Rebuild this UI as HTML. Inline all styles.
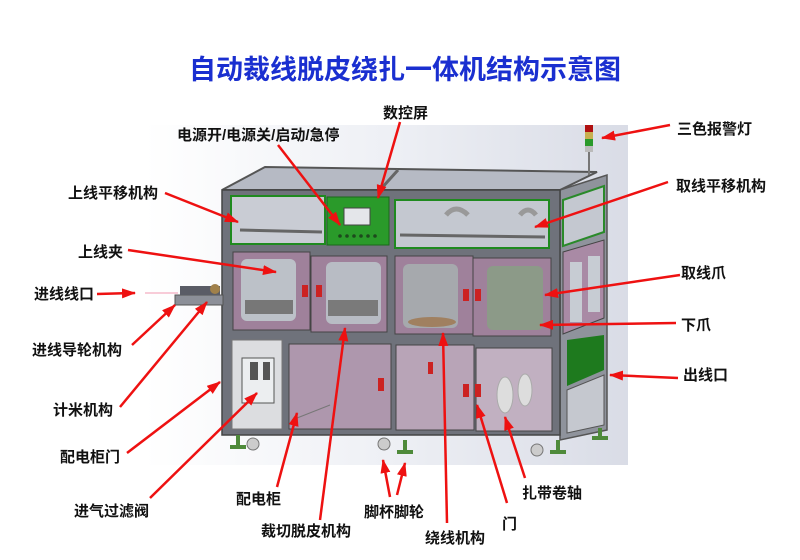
<!DOCTYPE html>
<html><head><meta charset="utf-8"><style>
body{margin:0;background:#fff;}
svg{display:block}
text{font-family:"Liberation Sans","Noto Sans CJK SC",sans-serif;font-weight:bold;}
</style></head><body>
<svg width="800" height="560" viewBox="0 0 800 560" xmlns="http://www.w3.org/2000/svg">
<defs>
<linearGradient id="bg" x1="0" x2="1" y1="0" y2="0">
<stop offset="0" stop-color="#ffffff"/><stop offset="0.5" stop-color="#eef0f5"/><stop offset="1" stop-color="#d9dce6"/>
</linearGradient>
<marker id="ah" markerWidth="14" markerHeight="10" refX="13" refY="5" orient="auto" markerUnits="userSpaceOnUse">
<path d="M0,0 L14,5 L0,10 z" fill="#ee1111"/>
</marker>
</defs>
<rect width="800" height="560" fill="#fff"/>
<rect x="145" y="125" width="483" height="340" fill="url(#bg)"/>
<text x="405" y="79" font-size="27" fill="#1a2fd0" text-anchor="middle">自动裁线脱皮绕扎一体机结构示意图</text>

<polygon points="222,190 265,167 597,172 560,190" fill="#b6bac4" stroke="#555" stroke-width="2"/>
<line x1="398" y1="170" x2="380" y2="190" stroke="#666" stroke-width="3"/>
<polygon points="560,190 607,175 607,430 560,440" fill="#8f939c" stroke="#555" stroke-width="1.5"/>
<polygon points="563,200 604,186 604,232 563,246" fill="#c4c8d0" stroke="#2a8a2a" stroke-width="2"/>
<polygon points="563,252 604,240 604,318 563,334" fill="#a98aa5" stroke="#444"/>
<rect x="570" y="262" width="12" height="60" fill="#c7ccd3"/>
<rect x="588" y="256" width="12" height="56" fill="#c7ccd3"/>
<polygon points="567,340 604,335 604,370 567,386" fill="#1e7a1e"/>
<polygon points="567,390 604,375 604,425 567,433" fill="#c5c8cf" stroke="#555"/>
<rect x="222" y="190" width="338" height="245" fill="#6f727b" stroke="#444" stroke-width="1.5"/>
<rect x="231" y="196" width="94" height="48" fill="#c9ccd4" stroke="#1f8a1f" stroke-width="2"/>
<line x1="240" y1="230" x2="322" y2="232" stroke="#666" stroke-width="3"/>
<rect x="327" y="197" width="62" height="48" fill="#2a9a2a" stroke="#1a6a1a"/>
<rect x="344" y="208" width="26" height="17" fill="#e4e6ea" stroke="#444"/>
<g fill="#1d4a1d"><circle cx="340" cy="236" r="1.8"/><circle cx="347" cy="236" r="1.8"/><circle cx="354" cy="236" r="1.8"/><circle cx="361" cy="236" r="1.8"/><circle cx="368" cy="236" r="1.8"/><circle cx="375" cy="236" r="1.8"/></g>
<rect x="395" y="200" width="154" height="48" fill="#c4c8d0" stroke="#1f8a1f" stroke-width="2"/>
<line x1="400" y1="235" x2="545" y2="237" stroke="#666" stroke-width="3"/>
<path d="M446,215 q10,-12 22,0" stroke="#999" stroke-width="5" fill="none"/>
<path d="M520,215 q8,-10 16,0" stroke="#999" stroke-width="5" fill="none"/>
<rect x="233" y="252" width="77" height="78" fill="#9f819b" stroke="#444"/>
<rect x="311" y="256" width="76" height="76" fill="#9f819b" stroke="#444"/>
<rect x="395" y="256" width="78" height="78" fill="#9f819b" stroke="#444"/>
<rect x="473" y="258" width="78" height="78" fill="#9f819b" stroke="#444"/>
<rect x="241" y="259" width="55" height="62" rx="6" fill="#bcc1c8"/>
<rect x="326" y="262" width="55" height="62" rx="6" fill="#b8bcc4"/>
<rect x="403" y="264" width="55" height="64" rx="6" fill="#a6a9ad"/>
<rect x="487" y="266" width="56" height="64" rx="6" fill="#8c9a88"/>
<rect x="245" y="300" width="48" height="14" fill="#777"/>
<rect x="328" y="300" width="50" height="16" fill="#7a7a7a"/>
<ellipse cx="432" cy="322" rx="24" ry="5" fill="#a08060"/>
<g fill="#c22"><rect x="302" y="285" width="6" height="12"/><rect x="316" y="285" width="6" height="12"/><rect x="463" y="289" width="6" height="12"/><rect x="475" y="289" width="6" height="12"/></g>
<rect x="232" y="340" width="50" height="89" fill="#dcdde0" stroke="#777"/>
<rect x="242" y="358" width="32" height="45" fill="#eceef0" stroke="#555"/>
<rect x="250" y="362" width="8" height="18" fill="#555"/><rect x="263" y="362" width="7" height="18" fill="#555"/>
<rect x="289" y="344" width="102" height="85" fill="#ae97ad" stroke="#444"/>
<rect x="396" y="345" width="78" height="85" fill="#b8a4b7" stroke="#444"/>
<rect x="476" y="348" width="76" height="83" fill="#c1b0c1" stroke="#444"/>
<line x1="292" y1="420" x2="330" y2="405" stroke="#777"/>
<ellipse cx="505" cy="395" rx="8" ry="18" fill="#ddd" stroke="#aaa"/>
<ellipse cx="525" cy="390" rx="7" ry="16" fill="#ddd" stroke="#aaa"/>
<g fill="#c22"><rect x="378" y="378" width="6" height="13"/><rect x="463" y="384" width="6" height="13"/><rect x="475" y="384" width="6" height="13"/><rect x="428" y="362" width="5" height="12"/></g>
<rect x="175" y="295" width="48" height="10" fill="#8c8f98" stroke="#555"/>
<rect x="180" y="286" width="40" height="9" fill="#5a5c66"/>
<circle cx="215" cy="289" r="5" fill="#a0804a"/>
<line x1="145" y1="293" x2="178" y2="293" stroke="#e79" stroke-width="0.8"/>
<g fill="#4e8a3a"><rect x="236" y="435" width="4" height="12"/><rect x="230" y="445" width="16" height="4"/>
<rect x="403" y="440" width="4" height="12"/><rect x="397" y="450" width="16" height="4"/>
<rect x="556" y="440" width="4" height="12"/><rect x="550" y="450" width="16" height="4"/>
<rect x="598" y="428" width="4" height="10"/><rect x="592" y="436" width="16" height="4"/></g>
<g fill="#ccc" stroke="#777"><circle cx="253" cy="444" r="6"/><circle cx="384" cy="444" r="6"/><circle cx="537" cy="450" r="6"/></g>
<line x1="589" y1="150" x2="589" y2="175" stroke="#777" stroke-width="2"/>
<rect x="585" y="125" width="8" height="7" fill="#b01010"/>
<rect x="585" y="132" width="8" height="7" fill="#c8b050"/>
<rect x="585" y="139" width="8" height="7" fill="#2a9a2a"/>
<rect x="585" y="146" width="8" height="6" fill="#bbb"/>

<g stroke="#ee1111" stroke-width="2.5" marker-end="url(#ah)" fill="none">
<line x1="278" y1="145" x2="340" y2="225"/>
<line x1="400" y1="122" x2="378" y2="198"/>
<line x1="670" y1="125" x2="602" y2="138"/>
<line x1="165" y1="193" x2="238" y2="222"/>
<line x1="668" y1="182" x2="535" y2="227"/>
<line x1="128" y1="250" x2="276" y2="272"/>
<line x1="680" y1="275" x2="545" y2="295"/>
<line x1="97" y1="294" x2="135" y2="293"/>
<line x1="676" y1="323" x2="540" y2="325"/>
<line x1="132" y1="345" x2="175" y2="305"/>
<line x1="120" y1="407" x2="207" y2="302"/>
<line x1="127" y1="453" x2="220" y2="382"/>
<line x1="150" y1="498" x2="257" y2="393"/>
<line x1="277" y1="487" x2="297" y2="413"/>
<line x1="320" y1="520" x2="345" y2="328"/>
<line x1="390" y1="497" x2="383" y2="460"/>
<line x1="397" y1="495" x2="405" y2="463"/>
<line x1="447" y1="523" x2="443" y2="333"/>
<line x1="507" y1="503" x2="477" y2="405"/>
<line x1="525" y1="478" x2="505" y2="417"/>
<line x1="678" y1="378" x2="610" y2="375"/>
</g>

<g font-size="15" fill="#111">
<text x="177" y="140">电源开/电源关/启动/急停</text>
<text x="383" y="118">数控屏</text>
<text x="677" y="134">三色报警灯</text>
<text x="68" y="198">上线平移机构</text>
<text x="676" y="191">取线平移机构</text>
<text x="78" y="257">上线夹</text>
<text x="681" y="278">取线爪</text>
<text x="34" y="299">进线线口</text>
<text x="681" y="330">下爪</text>
<text x="32" y="355">进线导轮机构</text>
<text x="683" y="380">出线口</text>
<text x="53" y="415">计米机构</text>
<text x="60" y="462">配电柜门</text>
<text x="74" y="516">进气过滤阀</text>
<text x="236" y="504">配电柜</text>
<text x="261" y="536">裁切脱皮机构</text>
<text x="364" y="517">脚杯脚轮</text>
<text x="425" y="543">绕线机构</text>
<text x="502" y="529">门</text>
<text x="522" y="498">扎带卷轴</text>
</g>
</svg>
</body></html>
